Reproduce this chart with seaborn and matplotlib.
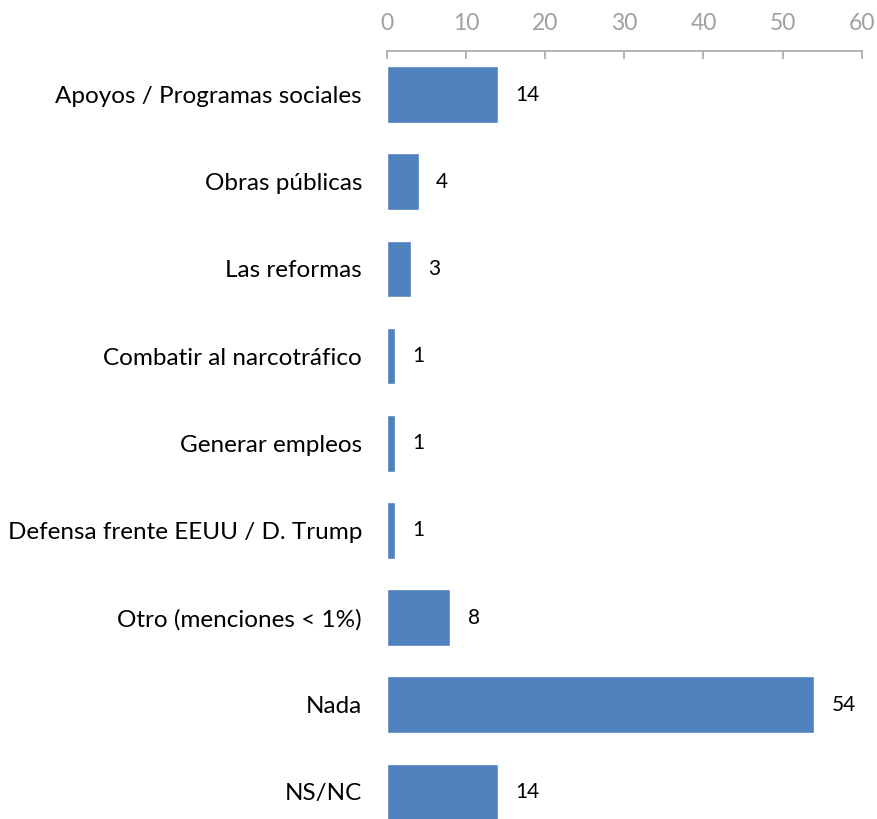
import pandas as pd
import matplotlib
matplotlib.use('Agg')
import matplotlib.pyplot as plt
import seaborn as sns

# Datos
categorias = ['Apoyos / Programas sociales', 'Obras públicas', 'Las reformas',
              'Combatir al narcotráfico', 'Generar empleos',
              'Defensa frente EEUU / D. Trump', 'Otro (menciones < 1%)',
              'Nada', 'NS/NC']
valores = [14, 4, 3, 1, 1, 1, 8, 54, 14]
ticks_x = [0, 10, 20, 30, 40, 50, 60]

df = pd.DataFrame({'categoria': categorias, 'valor': valores})

sns.set_style('white')
plt.rcParams['font.family'] = ['Lato', 'DejaVu Sans']

fig = plt.figure(figsize=(8.77, 8.19), dpi=100)
ax = fig.add_axes([0.4413, -0.0201, 0.5412, 0.9578])

sns.barplot(data=df, x='valor', y='categoria', color='#4f81bd', width=0.65,
            saturation=1, ax=ax)

ax.set_xlim(0, 60)
ax.set_ylim(8.5, -0.5)
ax.set_xticks(ticks_x)
ax.xaxis.tick_top()
ax.tick_params(axis='x', direction='in', length=6, width=1.2, color='#a6a6a6',
               labelcolor='#a0a0a0', labelsize=16.5, pad=12)
ax.tick_params(axis='y', length=0, labelsize=17.5, labelcolor='black', pad=18)
for s in ['right', 'bottom', 'left']:
    ax.spines[s].set_visible(False)
ax.spines['top'].set_color('#a6a6a6')
ax.spines['top'].set_linewidth(1.2)
ax.set_xlabel('')
ax.set_ylabel('')

for i, v in enumerate(valores):
    ax.text(v + 2.2, i, str(v), va='center', ha='left', fontsize=15, color='black')

fig.savefig('out.png', dpi=100)
